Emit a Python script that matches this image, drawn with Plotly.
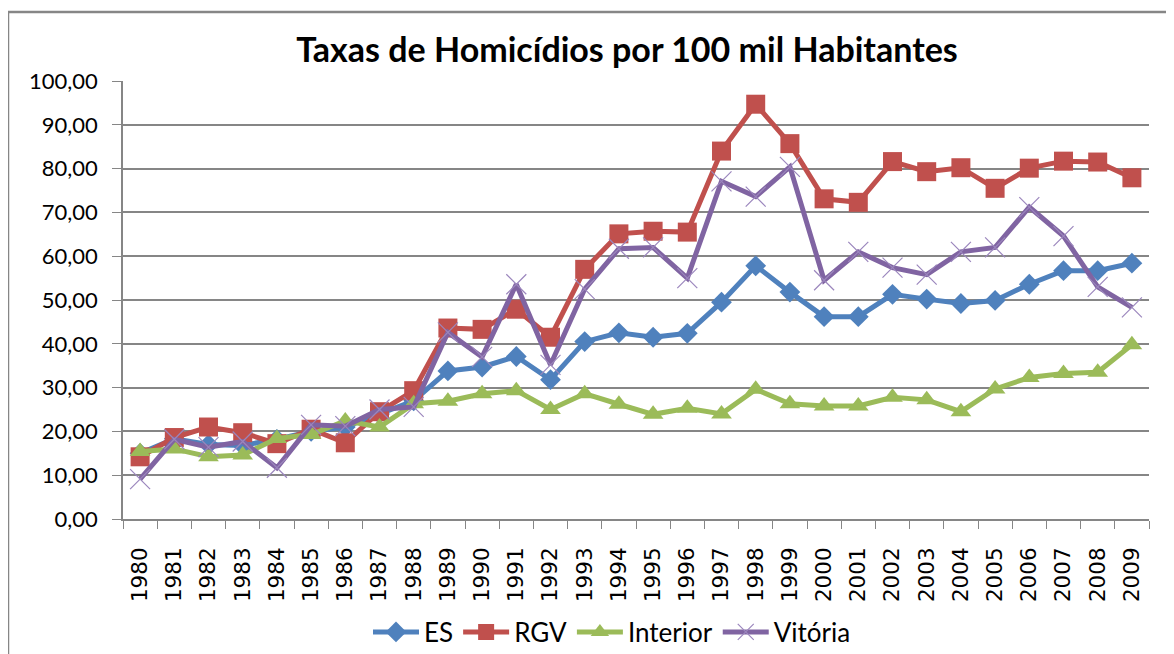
import plotly.graph_objects as go

years = [str(y) for y in range(1980, 2010)]
es = [15.0, 18.3, 17.0, 16.8, 18.2, 20.0, 21.0, 24.0, 27.0, 33.8, 34.7, 37.1, 31.8, 40.5, 42.5, 41.5, 42.4, 49.5, 57.8,
      51.8, 46.2, 46.2, 51.3, 50.2, 49.2, 49.9, 53.6, 56.7, 56.7, 58.4]
rgv = [14.2, 18.6, 21.0, 19.7, 17.2, 20.5, 17.4, 24.5, 29.3, 43.6, 43.3, 47.9, 41.5, 57.0, 65.1, 65.7, 65.5, 84.0, 94.7,
       85.7, 73.1, 72.3, 81.6, 79.3, 80.2, 75.5, 80.1, 81.7, 81.5, 77.9]
interior = [15.4, 16.0, 14.2, 14.6, 18.4, 19.3, 22.4, 21.0, 26.3, 26.9, 28.6, 29.3, 25.0, 28.6, 26.2, 23.9, 25.3, 24.0,
            29.6, 26.3, 25.8, 25.8, 27.8, 27.2, 24.5, 29.7, 32.3, 33.2, 33.5, 39.8]
vitoria = [9.1, 18.2, 16.4, 17.7, 11.7, 21.5, 21.2, 25.0, 25.6, 42.6, 37.0, 53.6, 35.2, 52.5, 61.7, 62.0, 55.0, 77.1,
           73.6, 80.4, 54.5, 61.0, 57.4, 55.8, 61.0, 62.0, 71.2, 64.6, 53.0, 48.3]

FONT = "Lato"
OFF = 8  # default body margin of the page

fig = go.Figure()
fig.add_trace(go.Scatter(x=years, y=es, name="ES", mode="lines+markers",
                         line=dict(color="#4F81BD", width=5),
                         marker=dict(symbol="diamond", size=16, color="#4F81BD")))
fig.add_trace(go.Scatter(x=years, y=rgv, name="RGV", mode="lines+markers",
                         line=dict(color="#C0504D", width=5),
                         marker=dict(symbol="square", size=19, color="#C0504D")))
fig.add_trace(go.Scatter(x=years, y=interior, name="Interior", mode="lines+markers",
                         line=dict(color="#9BBB59", width=5),
                         marker=dict(symbol="triangle-up", size=18, color="#9BBB59")))
fig.add_trace(go.Scatter(x=years, y=vitoria, name="Vitória", mode="lines+markers",
                         line=dict(color="#8064A2", width=5),
                         marker=dict(symbol="x-thin-open", size=20, color="#9B86BD",
                                     line=dict(width=1.2, color="#9B86BD"))))

W, H = 1174 - OFF, 654 - OFF
L = 123 - OFF
R = W - (1149 - OFF)
T = 81 - OFF
B = H - (519 - OFF)
pw, ph = W - L - R, H - T - B


def px(sx):
    return (sx - OFF - L) / pw


def py(sy):
    return (519 - sy) / ph


fig.update_layout(
    width=W, height=H,
    margin=dict(l=L, r=R, t=T, b=B, pad=0, autoexpand=False),
    paper_bgcolor="white", plot_bgcolor="white",
    separators=",.",
    font=dict(family=FONT, color="black"),
    title=dict(text="<b>Taxas de Homicídios por 100 mil Habitantes</b>",
               x=(627 - OFF) / W, xanchor="center", y=1 - (50 - OFF) / H, yanchor="middle",
               font=dict(family=FONT, size=34, color="black")),
    showlegend=True,
    legend=dict(orientation="h", xref="paper", x=px(612), xanchor="center",
                yref="container", y=1 - (632 - OFF) / H, yanchor="middle",
                font=dict(family=FONT, size=26, color="black"),
                itemwidth=46, tracegroupgap=0),
    xaxis=dict(type="category", showline=True, linecolor="#868686", linewidth=1.5,
               ticks="outside", tickson="boundaries", ticklen=8, tickcolor="#868686",
               tickangle=-90, ticklabelstandoff=18, automargin=False,
               tickfont=dict(family="DejaVu Sans", size=21.5, color="black"),
               showgrid=False, zeroline=False, range=[-0.5, 29.5]),
    yaxis=dict(range=[0, 100], dtick=10, tickformat=".2f", showline=True,
               linecolor="#868686", linewidth=1.5, ticks="outside", ticklen=9,
               tickcolor="#868686", showgrid=True, gridcolor="#868686", gridwidth=1.5,
               zeroline=False, ticklabelstandoff=10, automargin=False,
               tickfont=dict(family=FONT, size=22, color="black")),
    shapes=[dict(type="rect", xref="paper", yref="paper",
                 x0=px(8), x1=px(1185),
                 y0=py(670), y1=py(12),
                 line=dict(color="#868686", width=2.5), layer="below")],
)

fig.write_html("out.html")
